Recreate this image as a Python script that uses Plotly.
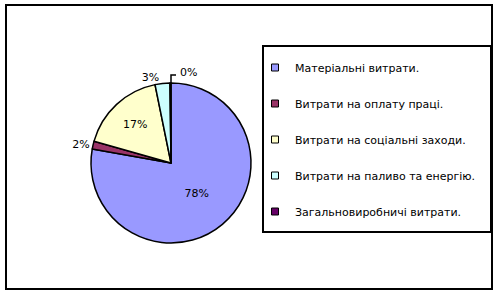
import plotly.graph_objects as go

labels = ["Матеріальні витрати.", "Витрати на оплату праці.", "Витрати на соціальні заходи.",
          "Витрати на паливо та енергію.", "Загальновиробничі витрати."]
values = [77.8, 1.6, 17.4, 3.0, 0.2]
colors = ["#9999FF", "#993366", "#FFFFCC", "#CCFFFF", "#660066"]
text_pos = ["inside", "outside", "inside", "outside", "none"]

W, H = 496, 292
FONT = "DejaVu Sans"

fig = go.Figure()
fig.add_trace(go.Pie(
    labels=labels, values=values, sort=False, direction="clockwise", rotation=0,
    marker=dict(colors=colors, line=dict(color="black", width=1.5)),
    texttemplate="%{percent:.0%}", textposition=text_pos,
    insidetextorientation="horizontal",
    textfont=dict(family=FONT, size=11, color="black"),
    showlegend=False,
    domain=dict(x=[91 / W, 251 / W], y=[1 - 243 / H, 1 - 83 / H]),
    hoverinfo="label+percent",
))
for i, (lab, col) in enumerate(zip(labels, colors)):
    fig.add_trace(go.Scatter(
        x=[None], y=[None], mode="markers", name=lab, legendgroup=f"g{i}",
        marker=dict(symbol="square", size=7, color=col, line=dict(color="black", width=1)),
    ))

# label of the tiny last slice, placed to the right of the top with a leader line
last_pct = f"{round(100 * values[-1] / sum(values))}%"
fig.add_annotation(
    xref="paper", yref="paper", x=178 / W, y=1 - 72 / H, xanchor="left", yanchor="middle",
    text=last_pct, showarrow=False, font=dict(family=FONT, size=11, color="black"),
)

fig.update_layout(
    width=W, height=H, margin=dict(l=0, r=0, t=0, b=0),
    paper_bgcolor="white", plot_bgcolor="white",
    xaxis=dict(visible=False), yaxis=dict(visible=False),
    font=dict(family=FONT, size=11, color="black"),
    legend=dict(x=255 / W, y=1 - 53 / H, xanchor="left", yanchor="top",
                bgcolor="rgba(0,0,0,0)", tracegroupgap=17, itemwidth=30,
                font=dict(family=FONT, size=11, color="black")),
    shapes=[
        dict(type="rect", xref="paper", yref="paper", x0=6 / W, x1=492 / W,
             y0=1 - 289 / H, y1=1 - 5 / H, line=dict(color="black", width=2)),
        dict(type="rect", xref="paper", yref="paper", x0=263 / W, x1=491 / W,
             y0=1 - 232 / H, y1=1 - 46 / H, line=dict(color="black", width=2)),
        dict(type="path", xref="paper", yref="paper",
             path=f"M {171 / W} {1 - 83 / H} L {171 / W} {1 - 75 / H} L {176 / W} {1 - 75 / H}",
             line=dict(color="black", width=1.5)),
    ],
)
fig.write_html("out.html")
